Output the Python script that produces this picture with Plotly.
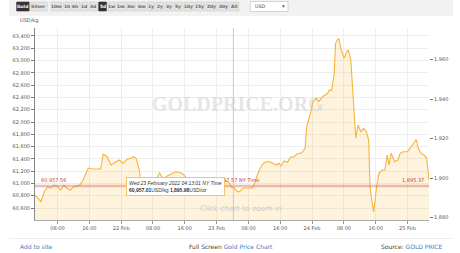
import plotly.graph_objects as go

# ---------------- data ----------------
times = [
    "2022-02-21 02:20", "2022-02-21 03:30", "2022-02-21 03:50", "2022-02-21 04:40", "2022-02-21 05:30",
    "2022-02-21 06:20", "2022-02-21 07:10", "2022-02-21 07:55", "2022-02-21 08:45", "2022-02-21 09:35",
    "2022-02-21 10:20", "2022-02-21 11:10", "2022-02-21 12:00", "2022-02-21 12:45", "2022-02-21 13:35",
    "2022-02-21 14:25", "2022-02-21 15:15", "2022-02-21 15:45", "2022-02-21 16:50", "2022-02-21 18:05",
    "2022-02-21 18:50", "2022-02-21 19:30", "2022-02-21 20:30", "2022-02-21 21:25", "2022-02-21 22:30",
    "2022-02-21 23:30",
    "2022-02-22 00:30", "2022-02-22 01:30", "2022-02-22 02:25", "2022-02-22 03:05", "2022-02-22 03:45",
    "2022-02-22 04:35", "2022-02-22 04:55", "2022-02-22 05:45", "2022-02-22 06:30", "2022-02-22 07:30",
    "2022-02-22 08:40", "2022-02-22 09:40", "2022-02-22 10:40", "2022-02-22 11:35", "2022-02-22 12:35",
    "2022-02-22 13:35", "2022-02-22 14:30", "2022-02-22 15:30", "2022-02-22 16:30", "2022-02-22 17:25",
    "2022-02-22 18:25", "2022-02-22 19:25", "2022-02-22 20:20", "2022-02-22 21:20", "2022-02-22 22:20",
    "2022-02-22 23:15",
    "2022-02-23 00:15", "2022-02-23 01:15", "2022-02-23 02:10", "2022-02-23 03:10", "2022-02-23 03:55",
    "2022-02-23 04:13", "2022-02-23 04:50", "2022-02-23 05:35", "2022-02-23 06:45", "2022-02-23 08:00",
    "2022-02-23 09:00", "2022-02-23 09:40", "2022-02-23 10:25", "2022-02-23 11:25", "2022-02-23 12:10",
    "2022-02-23 13:20", "2022-02-23 14:10", "2022-02-23 15:00", "2022-02-23 15:45", "2022-02-23 16:10",
    "2022-02-23 17:00", "2022-02-23 17:50", "2022-02-23 18:35", "2022-02-23 19:25", "2022-02-23 20:15",
    "2022-02-23 21:25", "2022-02-23 22:15", "2022-02-23 22:40", "2022-02-23 23:30",
    "2022-02-24 00:15", "2022-02-24 01:05", "2022-02-24 01:40", "2022-02-24 02:40", "2022-02-24 03:30",
    "2022-02-24 03:55", "2022-02-24 04:20", "2022-02-24 04:55", "2022-02-24 05:35", "2022-02-24 05:55",
    "2022-02-24 06:20", "2022-02-24 06:45", "2022-02-24 07:20", "2022-02-24 08:05", "2022-02-24 08:45",
    "2022-02-24 09:10", "2022-02-24 09:45", "2022-02-24 10:35", "2022-02-24 11:00", "2022-02-24 11:35",
    "2022-02-24 12:15", "2022-02-24 13:00", "2022-02-24 13:40", "2022-02-24 14:15", "2022-02-24 14:35",
    "2022-02-24 15:05", "2022-02-24 15:30", "2022-02-24 15:55", "2022-02-24 16:15", "2022-02-24 16:50",
    "2022-02-24 17:40", "2022-02-24 18:20", "2022-02-24 18:55", "2022-02-24 19:20", "2022-02-24 19:55",
    "2022-02-24 20:45", "2022-02-24 21:35", "2022-02-24 22:10", "2022-02-24 22:55",
    "2022-02-25 00:00", "2022-02-25 01:00", "2022-02-25 01:35", "2022-02-25 02:10", "2022-02-25 02:45",
    "2022-02-25 03:25", "2022-02-25 04:10", "2022-02-25 04:50", "2022-02-25 05:25",
]
price_usd_kg = [
    60812, 60730, 60703, 60865, 60942,
    60926, 60974, 60958, 60893, 60974,
    60926, 60893, 60942, 60958, 60974,
    61056, 61170, 61251, 61235, 61235,
    61235, 61479, 61435, 61300, 61337,
    61381,
    61328, 61393, 61409, 61435, 61409,
    61219, 61023, 60958, 61040, 61072,
    61056, 61170, 61072, 61121, 61154,
    61186, 61186, 61154, 61088, 61056,
    61088, 61040, 61056, 61023, 61056,
    61040,
    61007, 61040, 61056, 61007, 60926,
    60957, 60893, 60860, 60926, 60926,
    60926, 61023, 61170, 61300, 61349,
    61354, 61328, 61300, 61328, 61284,
    61365, 61344, 61425, 61435, 61479,
    61500, 61572, 61924, 62114,
    62331, 62386, 62331, 62412, 62440,
    62467, 62521, 62510, 62793, 63281,
    63335, 63363, 63172, 63037, 63145,
    63172, 63009, 62249, 61735, 61951,
    61842, 61898, 61842, 61707, 60947,
    60703, 60540, 60763, 60947, 61165,
    61219, 61219, 61463, 61300, 61491,
    61354, 61381, 61491, 61517,
    61517, 61598, 61653, 61718, 61572,
    61491, 61463, 61409, 61056,
]

OZ_PER_KG = 32.1507
price_usd_oz = [p / OZ_PER_KG for p in price_usd_kg]

x_tick_vals = [
    "2022-02-21 08:00", "2022-02-21 16:00", "2022-02-22 00:00",
    "2022-02-22 08:00", "2022-02-22 16:00", "2022-02-23 00:00",
    "2022-02-23 08:00", "2022-02-23 16:00", "2022-02-24 00:00",
    "2022-02-24 08:00", "2022-02-24 16:00", "2022-02-25 00:00",
]
x_tick_text = ["08:00", "16:00", "22 Feb", "08:00", "16:00", "23 Feb",
               "08:00", "16:00", "24 Feb", "08:00", "16:00", "25 Feb"]
kg_ticks = list(range(60600, 63401, 200))
oz_ticks = [1880, 1900, 1920, 1940, 1960]

prev_close_kg = 60957.56
prev_close_oz = 1895.37
hover_time = "2022-02-23 04:13:01"
hover_kg_text = "60,957.01"
hover_oz_text = "1,895.98"

range_buttons = ["Gold", "Silver", "10m", "1h", "6h", "1d", "3d", "5d", "1w", "1m", "3m", "6m",
                 "1y", "2y", "3y", "5y", "10y", "15y", "20y", "30y", "All"]
selected_buttons = ["Gold", "5d"]

# ---------------- figure ----------------
W, H = 460, 253
ML, MR, MT, MB = 27, 25, 28, 33
PW, PH = W - ML - MR, H - MT - MB
y_lo, y_hi = 60405, 63530

FONT = "DejaVu Sans"
LINE = "#f6b43c"
BLUE = "#3b7dc4"
RED = "#c83a32"


def px(xp):
    return (xp - ML) / PW


def py(yp):
    return (H - MB - yp) / PH


fig = go.Figure()
fig.add_trace(go.Scatter(
    x=times, y=price_usd_kg, mode="lines",
    line=dict(color=LINE, width=1.1),
    fill="tozeroy", fillcolor="rgba(250,200,100,0.22)",
    hoverinfo="skip", showlegend=False,
))
fig.add_trace(go.Scatter(
    x=times, y=price_usd_oz, mode="lines", yaxis="y2",
    line=dict(width=0, color="rgba(0,0,0,0)"),
    hoverinfo="skip", showlegend=False,
))

shapes = []
annotations = []

# top toolbar background
shapes.append(dict(type="rect", xref="paper", yref="paper", x0=px(0), x1=px(W), y0=py(16), y1=py(0),
                   fillcolor="#f2f2f2", line=dict(width=0), layer="below"))


def btn_width(label):
    w = 0.0
    for ch in label:
        if ch in "il1":
            w += 1.9
        elif ch in "mw":
            w += 4.0
        elif ch.isupper():
            w += 3.4
        else:
            w += 2.9
    return w + 3.0


GAP = 1.8
EXTRA_GAP = 2.5
raw_w = [btn_width(b) for b in range_buttons]
raw_total = sum(raw_w) + GAP * (len(range_buttons) - 1) + EXTRA_GAP
scale = (238.0 - 8.0) / raw_total

xcur = 8.0
for lab, rw in zip(range_buttons, raw_w):
    w = rw * scale
    sel = lab in selected_buttons
    shapes.append(dict(type="rect", xref="paper", yref="paper",
                       x0=px(xcur), x1=px(xcur + w), y0=py(11), y1=py(2),
                       fillcolor="#333333" if sel else "#e4e4e4",
                       line=dict(color="#333333" if sel else "#c9c9c9", width=0.6)))
    annotations.append(dict(xref="paper", yref="paper", x=px(xcur + w / 2), y=py(6.5),
                            text="<b>%s</b>" % lab, showarrow=False, xanchor="center", yanchor="middle",
                            font=dict(family=FONT, size=4.4, color="#ffffff" if sel else "#666666")))
    xcur += w + GAP * scale
    if lab == "Silver":
        xcur += EXTRA_GAP * scale

# currency dropdown
shapes.append(dict(type="rect", xref="paper", yref="paper", x0=px(250), x1=px(289), y0=py(11.5), y1=py(1.5),
                   fillcolor="#ffffff", line=dict(color="#bbbbbb", width=0.6)))
annotations.append(dict(xref="paper", yref="paper", x=px(253), y=py(6.5), text="USD", showarrow=False,
                        xanchor="left", yanchor="middle", font=dict(family=FONT, size=4.8, color="#444")))
annotations.append(dict(xref="paper", yref="paper", x=px(284), y=py(6.5), text="▾", showarrow=False,
                        xanchor="center", yanchor="middle", font=dict(family=FONT, size=5.5, color="#666")))

# unit label
annotations.append(dict(xref="paper", yref="paper", x=px(9), y=py(20.5), text="USD/kg", showarrow=False,
                        xanchor="left", yanchor="middle", font=dict(family=FONT, size=5, color="#555")))

# watermark
annotations.append(dict(xref="paper", yref="paper", x=px(237), y=py(104), text="<b>GOLDPRICE.ORG</b>",
                        showarrow=False, xanchor="center", yanchor="middle",
                        font=dict(family="Liberation Serif", size=20, color="rgba(200,200,200,0.45)")))

# previous close line
shapes.append(dict(type="line", xref="paper", yref="y", x0=0, x1=1, y0=prev_close_kg, y1=prev_close_kg,
                   line=dict(color="rgba(215,110,95,0.45)", width=2.4)))
annotations.append(dict(xref="paper", yref="y", x=px(31), y=prev_close_kg, yshift=1,
                        text="{:,.2f}".format(prev_close_kg), showarrow=False,
                        xanchor="left", yanchor="bottom", font=dict(family=FONT, size=5, color=RED)))
annotations.append(dict(xref="paper", yref="y", x=px(432), y=prev_close_kg, yshift=1,
                        text="{:,.2f}".format(prev_close_oz), showarrow=False,
                        xanchor="right", yanchor="bottom", font=dict(family=FONT, size=5, color=RED)))

# crosshair
shapes.append(dict(type="line", xref="x", yref="paper", x0=hover_time, x1=hover_time, y0=0, y1=1,
                   line=dict(color="#c8c8c8", width=1)))
annotations.append(dict(xref="x", yref="y", x=hover_time, y=prev_close_kg, xshift=29, yshift=1,
                        text="60,957.57 NY Time", showarrow=False,
                        xanchor="right", yanchor="bottom", font=dict(family=FONT, size=5, color=RED)))

# click-to-zoom hint
annotations.append(dict(xref="paper", yref="paper", x=px(240), y=py(208), text="Click chart to zoom in",
                        showarrow=False, xanchor="center", yanchor="middle",
                        font=dict(family=FONT, size=7.5, color="#cccccc")))

# tooltip
annotations.append(dict(
    xref="paper", yref="paper", x=px(121), y=py(177),
    text="<i>Wed 23 February 2022 04:13:01 NY Time</i><br><b>%s</b>USD/kg <b>%s</b>USD/oz"
         % (hover_kg_text, hover_oz_text),
    showarrow=False, xanchor="left", yanchor="top", align="left",
    bgcolor="rgba(255,255,255,0.96)", bordercolor="#f2c46c", borderwidth=1, borderpad=2,
    font=dict(family="Liberation Sans", size=5, color="#333333"),
))

# footer
shapes.append(dict(type="line", xref="paper", yref="paper", x0=px(0), x1=px(W), y0=py(238.5), y1=py(238.5),
                   line=dict(color="#eeeeee", width=1)))
annotations.append(dict(xref="paper", yref="paper", x=px(9), y=py(246.5), text="Add to site",
                        showarrow=False, xanchor="left", yanchor="middle",
                        font=dict(family=FONT, size=6, color=BLUE)))
annotations.append(dict(xref="paper", yref="paper", x=px(230), y=py(246.5),
                        text="Full Screen <span style='color:%s'>Gold Price Chart</span>" % BLUE,
                        showarrow=False, xanchor="center", yanchor="middle",
                        font=dict(family=FONT, size=6, color="#444444")))
annotations.append(dict(xref="paper", yref="paper", x=px(452), y=py(246.5),
                        text="Source: <span style='color:%s'>GOLD PRICE</span>" % BLUE,
                        showarrow=False, xanchor="right", yanchor="middle",
                        font=dict(family=FONT, size=6, color="#444444")))

fig.update_layout(
    width=W, height=H,
    margin=dict(l=ML, r=MR, t=MT, b=MB, pad=0),
    paper_bgcolor="white", plot_bgcolor="white",
    showlegend=False, hovermode=False,
    shapes=shapes, annotations=annotations,
    xaxis=dict(type="date", range=[times[0], times[-1]],
               tickmode="array", tickvals=x_tick_vals, ticktext=x_tick_text,
               showgrid=True, gridcolor="#eeeeee", gridwidth=1,
               ticks="outside", ticklen=3, tickcolor="#999999",
               showline=True, linecolor="#aaaaaa", linewidth=1,
               tickfont=dict(family=FONT, size=5, color="#555555"), zeroline=False),
    yaxis=dict(range=[y_lo, y_hi], tickmode="array", tickvals=kg_ticks, tickformat=",d",
               showgrid=True, gridcolor="#eeeeee", gridwidth=1,
               ticks="outside", ticklen=3, tickcolor="#777777",
               showline=True, linecolor="#888888", linewidth=1,
               tickfont=dict(family=FONT, size=5, color="#555555"), zeroline=False),
    yaxis2=dict(overlaying="y", side="right", range=[y_lo / OZ_PER_KG, y_hi / OZ_PER_KG],
                tickmode="array", tickvals=oz_ticks, tickformat=",d",
                showgrid=False, ticks="outside", ticklen=3, tickcolor="#777777",
                showline=False, zeroline=False,
                tickfont=dict(family=FONT, size=5, color="#555555")),
)

fig.write_html("out.html")
